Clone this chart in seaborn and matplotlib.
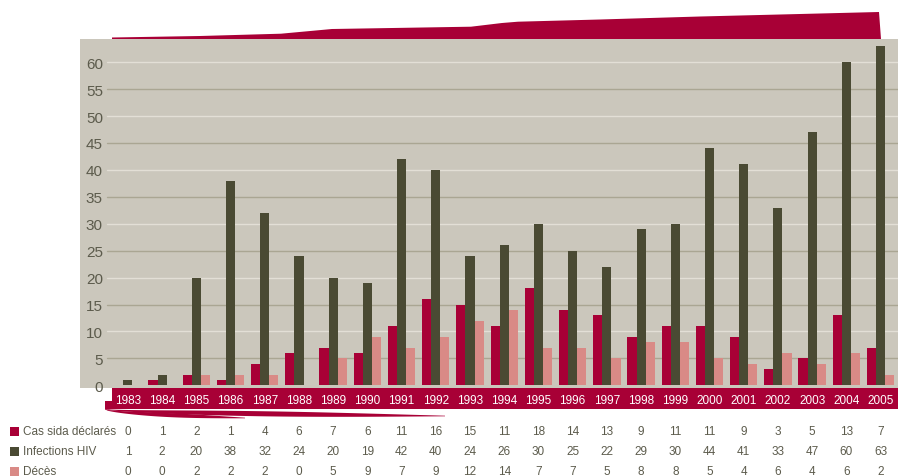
import numpy as np
import pandas as pd
import matplotlib
matplotlib.use("Agg")
import matplotlib.pyplot as plt
import matplotlib.transforms as mtransforms
from matplotlib.patches import Polygon, Rectangle
import seaborn as sns

# data
years = [str(y) for y in range(1983, 2006)]
cas_sida = [0, 1, 2, 1, 4, 6, 7, 6, 11, 16, 15, 11, 18, 14, 13, 9, 11, 11, 9, 3, 5, 13, 7]
infections_hiv = [1, 2, 20, 38, 32, 24, 20, 19, 42, 40, 24, 26, 30, 25, 22, 29, 30, 44, 41, 33, 47, 60, 63]
deces = [0, 0, 2, 2, 2, 0, 5, 9, 7, 9, 12, 14, 7, 7, 5, 8, 8, 5, 4, 6, 4, 6, 2]
series = ["Cas sida déclarés", "Infections HIV", "Décès"]
y_ticks = list(range(0, 65, 5))

crimson = "#a80036"
colors = [crimson, "#4a4a33", "#d98a86"]
text_col = "#5c5b4c"

sns.set_style("white")
plt.rcParams["font.family"] = ["Liberation Sans", "DejaVu Sans"]

W, H = 898, 477
fig = plt.figure(figsize=(W / 100, H / 100), dpi=100)


def fx(px):
    return px / W


def fy(py):
    return 1 - py / H


ax = fig.add_axes([fx(80), fy(389), fx(898 - 80), (389 - 40) / H])

df = pd.DataFrame({
    "year": years * 3,
    "value": cas_sida + infections_hiv + deces,
    "serie": [s for s in series for _ in years],
})
sns.barplot(data=df, x="year", y="value", hue="serie", hue_order=series,
            palette=colors, width=0.8, linewidth=0, saturation=1,
            legend=False, ax=ax, zorder=3)

ax.set_facecolor("#cbc7bc")
for s in ax.spines.values():
    s.set_visible(False)
ax.set_xlim(-1.40, 22.51)
ax.set_ylim(-0.5, 64.3)
ax.set_xlabel("")
ax.set_ylabel("")

# grid lines, lighter on tens, darker on fives
for t in y_ticks[1:]:
    c = "#e3dfd6" if t % 10 == 0 else "#aaa693"
    ax.axhline(t, xmin=(107 - 80) / 818, xmax=1, color=c, lw=1, zorder=1)

ax.set_yticks(y_ticks)
ax.set_yticklabels([str(t) for t in y_ticks])
# pad is in points: labels sit inside the panel, right edge ~23 px from its left side
ax.tick_params(axis="y", length=0, pad=-16.5, labelsize=11, labelcolor=text_col)
for lab in ax.get_yticklabels():
    lab.set_horizontalalignment("right")

ax.tick_params(axis="x", length=0, pad=4, labelsize=8.5, labelcolor="white")

# crimson band behind the year labels
fig.add_artist(Polygon([(fx(105), fy(402)), (fx(112), fy(402)), (fx(112), fy(389)),
                        (fx(898), fy(389)), (fx(898), fy(410)), (fx(105), fy(410))],
                       closed=True, transform=fig.transFigure, color=crimson,
                       lw=0, zorder=-1))

# swooshes under the band
t = np.linspace(0, 1, 60)
for x_end, y_end, thick in [(245, 419, 2.0), (445, 417, 2.6)]:
    xs = 105 + (x_end - 105) * t
    mid = 410 + (y_end - 410) * np.sqrt(t)
    half = thick * np.sin(np.pi * t) * (1 - 0.3 * t) + 0.3
    top = [(fx(x), fy(m - h)) for x, m, h in zip(xs, mid, half)]
    bot = [(fx(x), fy(m + h)) for x, m, h in zip(xs[::-1], mid[::-1], half[::-1])]
    fig.add_artist(Polygon(top + bot, closed=True, transform=fig.transFigure,
                           color=crimson, lw=0, zorder=-1))

# crimson rising shape above the panel
top_pts = [(112, 38.5), (200, 37), (281, 34.7), (332, 30), (471, 27.7), (502, 24),
           (518, 22.7), (600, 20.5), (700, 17.5), (800, 15), (879, 13), (881, 40), (112, 40)]
fig.add_artist(Polygon([(fx(x), fy(y)) for x, y in top_pts], closed=True,
                       transform=fig.transFigure, color=crimson, lw=0, zorder=-1))

# data table under the chart
trans = mtransforms.blended_transform_factory(ax.transData, fig.transFigure)
row_y = [432, 452, 472]
for name, vals, col, ry in zip(series, [cas_sida, infections_hiv, deces], colors, row_y):
    fig.add_artist(Rectangle((fx(10), fy(ry + 4.5)), fx(9), 9 / H,
                             transform=fig.transFigure, color=col, lw=0))
    fig.text(fx(23), fy(ry), name, ha="left", va="center", fontsize=8.5, color=text_col)
    for i, v in enumerate(vals):
        ax.text(i, fy(ry), str(v), transform=trans, ha="center", va="center",
                fontsize=8.5, color=text_col, clip_on=False)

fig.savefig("out.png", dpi=100)
